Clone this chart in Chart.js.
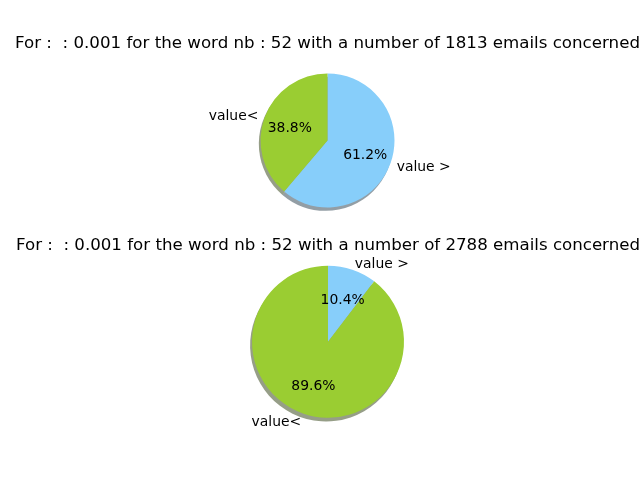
<!DOCTYPE html>
<html>
<head>
<meta charset="utf-8">
<script src="https://cdn.jsdelivr.net/npm/chart.js@4/dist/chart.umd.min.js"></script>
<style>
  html, body { margin: 0; padding: 0; background: #ffffff; }
  body { width: 640px; height: 480px; position: relative; overflow: hidden; }
  .box { position: absolute; left: 0; width: 640px; }
  #b1 { top: 0; height: 240px; }
  #b2 { top: 200px; height: 280px; }
</style>
</head>
<body>
<div class="box" id="b1"><canvas id="c1"></canvas></div>
<div class="box" id="b2"><canvas id="c2"></canvas></div>
<script>
// ---- data ----
const categories = ['value >', 'value<'];
const colors = ['#87CEFA', '#9ACD32'];
const shadowColors = ['rgba(40,62,75,0.5)', 'rgba(46,62,15,0.5)'];
const titles = [
  'For :  : 0.001 for the word nb : 52 with a number of 1813 emails concerned',
  'For :  : 0.001 for the word nb : 52 with a number of 2788 emails concerned'
];
const valuesTop = [61.2, 38.8];
const valuesBottom = [10.4, 89.6];

const FONT = 'DejaVu Sans';

const shadowPlugin = {
  id: 'pieShadow',
  beforeDatasetsDraw(chart) {
    const ctx = chart.ctx;
    const meta = chart.getDatasetMeta(0);
    meta.data.forEach((arc, i) => {
      const p = arc.getProps(['x', 'y', 'startAngle', 'endAngle', 'outerRadius'], true);
      const dx = -0.025 * p.outerRadius, dy = 0.05 * p.outerRadius;
      ctx.save();
      ctx.beginPath();
      ctx.moveTo(p.x + dx, p.y + dy);
      ctx.arc(p.x + dx, p.y + dy, p.outerRadius, p.startAngle, p.endAngle);
      ctx.closePath();
      ctx.fillStyle = shadowColors[i];
      ctx.fill();
      ctx.restore();
    });
  }
};

const labelPlugin = {
  id: 'pieLabels',
  afterDatasetsDraw(chart) {
    const ctx = chart.ctx;
    const meta = chart.getDatasetMeta(0);
    const data = chart.data.datasets[0].data;
    const total = data.reduce((a, b) => a + b, 0);
    meta.data.forEach((arc, i) => {
      const p = arc.getProps(['x', 'y', 'startAngle', 'endAngle', 'outerRadius'], true);
      const mid = (p.startAngle + p.endAngle) / 2;
      const c = Math.cos(mid), s = Math.sin(mid);
      const yAdj = 1.5;
      ctx.save();
      ctx.fillStyle = '#000';
      ctx.font = '13.9px "' + FONT + '"';
      ctx.textBaseline = 'middle';
      // outer label
      ctx.textAlign = c >= 0 ? 'left' : 'right';
      ctx.fillText(chart.data.labels[i], p.x + 1.1 * p.outerRadius * c, p.y + 1.1 * p.outerRadius * s + yAdj);
      // percentage
      ctx.textAlign = 'center';
      ctx.fillText((data[i] / total * 100).toFixed(1) + '%', p.x + 0.6 * p.outerRadius * c, p.y + 0.6 * p.outerRadius * s + yAdj);
      ctx.restore();
    });
  }
};

function makePie(id, values, title, padding, titlePad) {
  return new Chart(document.getElementById(id), {
    type: 'pie',
    data: {
      labels: categories,
      datasets: [{ data: values, backgroundColor: colors, borderWidth: 0, hoverOffset: 0 }]
    },
    options: {
      responsive: true,
      maintainAspectRatio: false,
      animation: false,
      events: [],
      layout: { padding: padding },
      plugins: {
        legend: { display: false },
        tooltip: { enabled: false },
        title: {
          display: true,
          text: title,
          color: '#000',
          font: { family: FONT, size: 16.67, weight: 'normal', lineHeight: 1.2 },
          padding: titlePad
        }
      }
    },
    plugins: [shadowPlugin, labelPlugin]
  });
}

makePie('c1', valuesTop, titles[0], { top: 34, left: 15, right: 0, bottom: 32.5 }, { top: 0, bottom: 19.5 });
makePie('c2', valuesBottom, titles[1], { top: 36, left: 16, right: 0, bottom: 62.3 }, { top: 0, bottom: 9.7 });
</script>
</body>
</html>
